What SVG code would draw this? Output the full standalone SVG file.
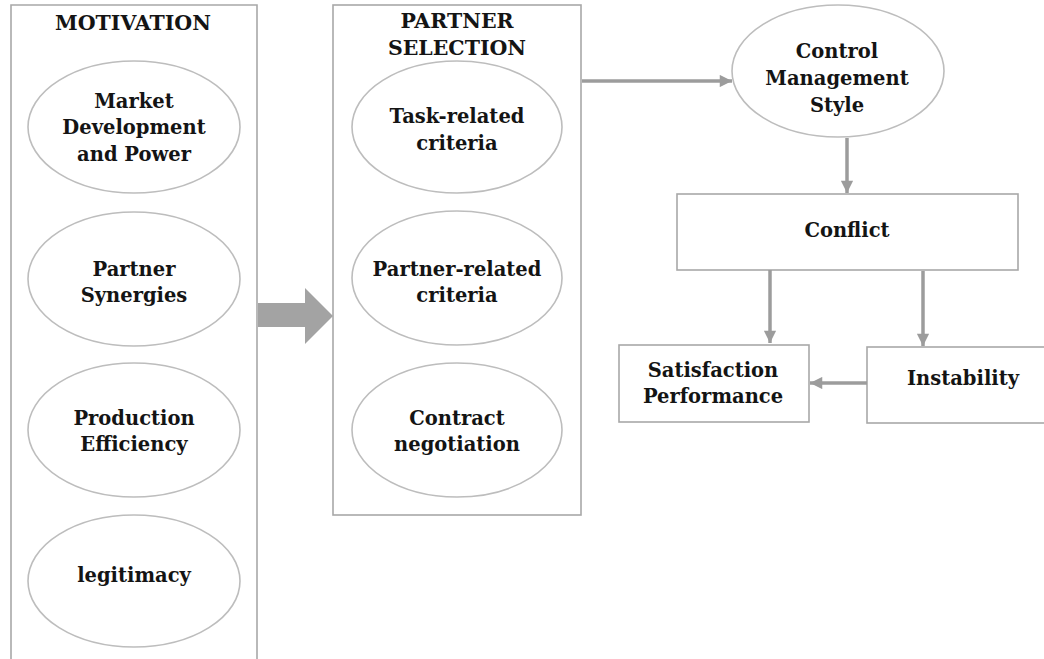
<svg xmlns="http://www.w3.org/2000/svg" width="1044" height="659" viewBox="0 0 1044 659">
<style>
.box{fill:#fff;stroke:#a8a8a8;stroke-width:1.6}
.ell{fill:#fff;stroke:#bdbdbd;stroke-width:1.6}
.t{font-family:"DejaVu Serif","Liberation Serif",serif;font-weight:bold;font-size:19.5px;fill:#141414;text-anchor:middle}
.h{font-size:20.5px}
.c{fill:none;stroke:#9c9c9c;stroke-width:3.5}
</style>
<defs>
<marker id="ah" viewBox="0 0 10 10" refX="10" refY="5" markerWidth="4" markerHeight="3.5" orient="auto" markerUnits="strokeWidth">
<path d="M0,0 L10,5 L0,10 Z" fill="#9c9c9c"/>
</marker>
</defs>
<rect width="1044" height="659" fill="#fff"/>
<g id="motivation">
<path class="box" d="M11,665 L11,5 L257,5 L257,665"/>
<text class="t h" x="133" y="30">MOTIVATION</text>
</g>
<g id="market">
<ellipse class="ell" cx="134" cy="127" rx="106" ry="66"/>
<text class="t" x="134" y="108">Market</text>
<text class="t" x="134" y="134">Development</text>
<text class="t" x="134" y="161">and Power</text>
</g>
<g id="synergies">
<ellipse class="ell" cx="134" cy="279" rx="106" ry="67"/>
<text class="t" x="134" y="276">Partner</text>
<text class="t" x="134" y="302">Synergies</text>
</g>
<g id="production">
<ellipse class="ell" cx="134" cy="430" rx="106" ry="67"/>
<text class="t" x="134" y="425">Production</text>
<text class="t" x="134" y="451">Efficiency</text>
</g>
<g id="legitimacy">
<ellipse class="ell" cx="134" cy="581" rx="106" ry="66"/>
<text class="t" x="134" y="582">legitimacy</text>
</g>
<g id="partner-selection">
<rect class="box" x="333" y="5" width="248" height="510"/>
<text class="t h" x="457" y="28">PARTNER</text>
<text class="t h" x="457" y="55">SELECTION</text>
</g>
<g id="task">
<ellipse class="ell" cx="457" cy="127" rx="105" ry="66"/>
<text class="t" x="457" y="123">Task-related</text>
<text class="t" x="457" y="150">criteria</text>
</g>
<g id="partner-related">
<ellipse class="ell" cx="457" cy="278" rx="105" ry="67"/>
<text class="t" x="457" y="276">Partner-related</text>
<text class="t" x="457" y="302">criteria</text>
</g>
<g id="contract">
<ellipse class="ell" cx="457" cy="430" rx="105" ry="67"/>
<text class="t" x="457" y="425">Contract</text>
<text class="t" x="457" y="451">negotiation</text>
</g>
<g id="control">
<ellipse class="ell" cx="838" cy="71" rx="106" ry="66"/>
<text class="t" x="837" y="58">Control</text>
<text class="t" x="837" y="85">Management</text>
<text class="t" x="837" y="112">Style</text>
</g>
<g id="conflict">
<rect class="box" x="677" y="194" width="341" height="76"/>
<text class="t" x="847" y="237">Conflict</text>
</g>
<g id="satisfaction">
<rect class="box" x="619" y="345" width="190" height="77"/>
<text class="t" x="713" y="377">Satisfaction</text>
<text class="t" x="713" y="403">Performance</text>
</g>
<g id="instability">
<rect class="box" x="867" y="347" width="190" height="76"/>
<text class="t" x="963" y="385">Instability</text>
</g>
<g id="connectors">
<path d="M258,303 L305,303 L305,288 L333,316 L305,344 L305,327 L258,327 Z" fill="#a3a3a3"/>
<line class="c" x1="582" y1="81" x2="732" y2="81" marker-end="url(#ah)"/>
<line class="c" x1="847" y1="138" x2="847" y2="193" marker-end="url(#ah)"/>
<line class="c" x1="770" y1="270" x2="770" y2="343" marker-end="url(#ah)"/>
<line class="c" x1="923" y1="271" x2="923" y2="346" marker-end="url(#ah)"/>
<line class="c" x1="867" y1="383" x2="810" y2="383" marker-end="url(#ah)"/>
</g>
</svg>
